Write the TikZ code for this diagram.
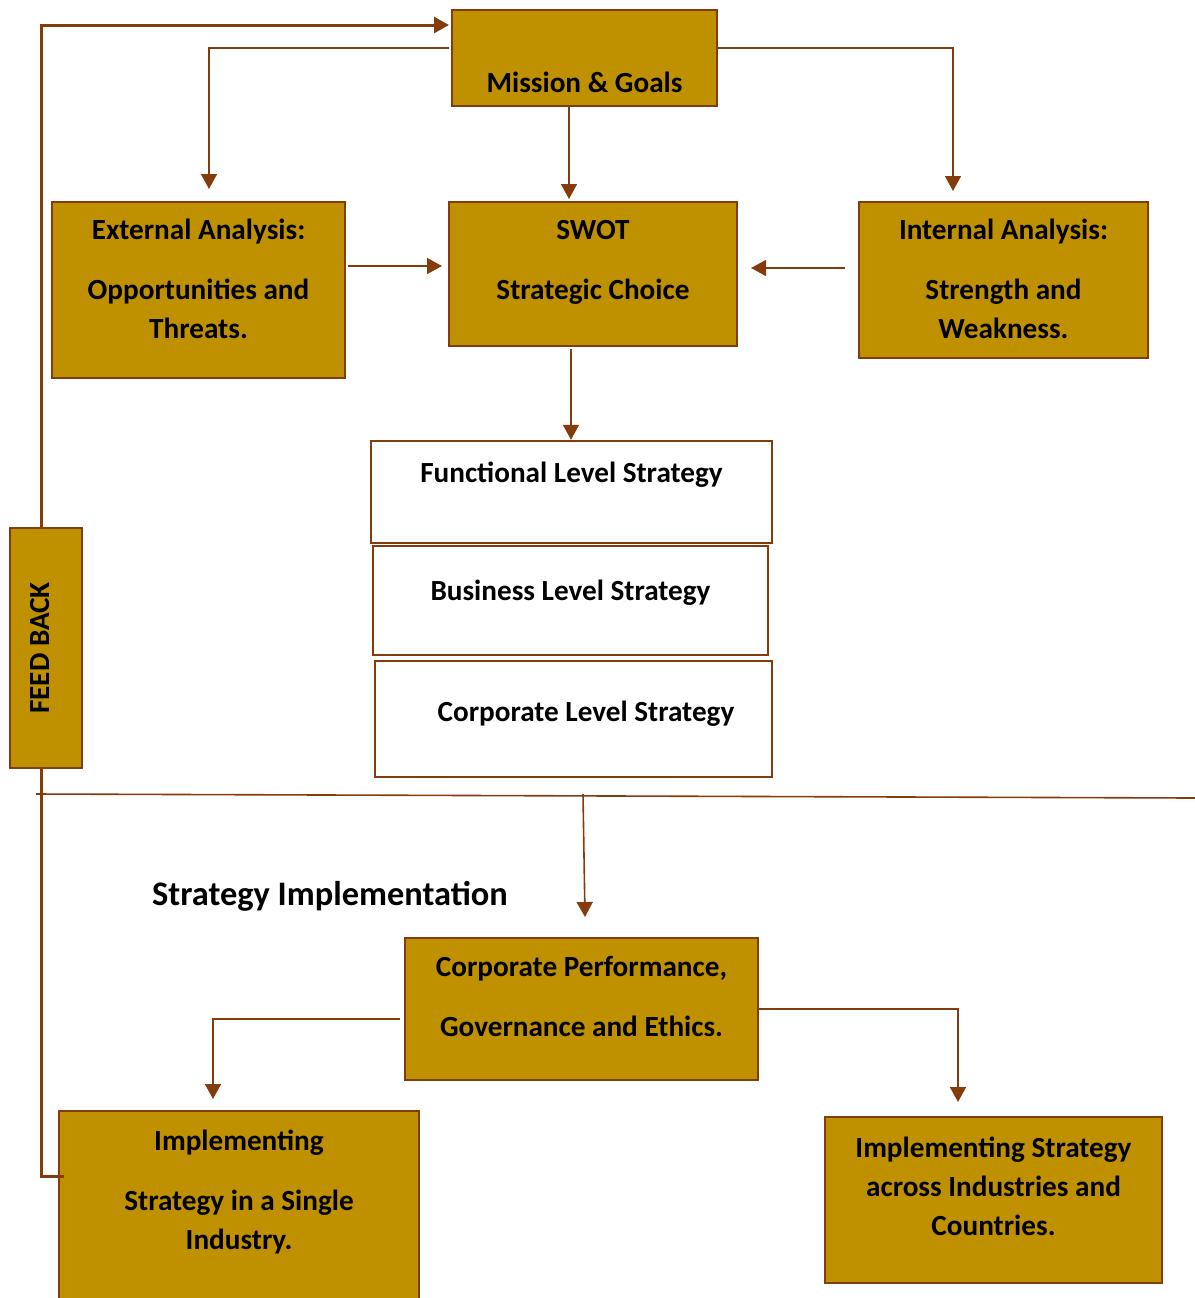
\documentclass[tikz,border=0pt]{standalone}
\usepackage{fontspec}
\setmainfont{Carlito}
\usetikzlibrary{arrows.meta}
\definecolor{boxgold}{RGB}{191,144,0}
\definecolor{linebrown}{RGB}{132,60,12}
\tikzset{
	->, % every connector is directed
	>={Triangle[length=7.5pt,width=8pt]}, % filled triangle heads
	box/.style={draw=linebrown, line width=1pt, fill=boxgold, align=flush center, inner xsep=5pt, inner ysep=0pt,
		font=\bfseries\fontsize{14.6pt}{19.5pt}\selectfont}, % gold boxes
	plainbox/.style={box, fill=white, line width=1.2pt}, % white strategy levels
	boxsize/.style 2 args={minimum width=#1, text width=#1-10pt, minimum height=#2}, % outer size of a box
	textlow/.style={text height=#1, text depth=0pt}, % first baseline below the middle
	texthigh/.style={text height=0pt, text depth=#1}, % first baseline above the middle
	link/.style={draw=linebrown, line width=0.8pt}, % thin connectors
	fback/.style={draw=linebrown, line width=1.5pt}, % feedback loop
}
\begin{document}
\begin{tikzpicture}[x=0.5pt,y=-0.5pt]
	\useasboundingbox (0,0) rectangle (1195,1298);

	% upper part
	\node[box, boxsize={132.5pt}{48pt}, textlow=34pt] (mission) at (584.5,58) {Mission \& Goals};
	\node[box, boxsize={146.5pt}{88pt}, texthigh=51pt] (ext) at (198.5,290) {External Analysis:\\[10.5pt]Opportunities and\\Threats.};
	\node[box, boxsize={144pt}{72pt}, texthigh=35pt] (swot) at (593,274) {SWOT\\[10.5pt]Strategic Choice};
	\node[box, boxsize={144.5pt}{78pt}, texthigh=41pt] (int) at (1003.5,280) {Internal Analysis:\\[10.5pt]Strength and\\Weakness.};
	\node[plainbox, boxsize={200.5pt}{51pt}, texthigh=10pt] (func) at (571.5,492) {Functional Level Strategy};
	\node[plainbox, boxsize={197.5pt}{54.5pt}, texthigh=0pt] (bus) at (570.5,600.5) {Business Level Strategy};
	\node[plainbox, boxsize={198.5pt}{58pt}, textlow=2pt] (corp) at (573.5,719) {\hspace*{12.5pt}Corporate Level Strategy};
	\node[box, boxsize={36pt}{120pt}] (feed) at (46,648) {\hspace*{-6pt}\rotatebox{90}{FEED BACK}};

	% lower part
	\node[font=\bfseries\fontsize{17.2pt}{20pt}\selectfont] (impl) at (330,896) {Strategy Implementation};
	\node[box, boxsize={176.5pt}{71pt}, texthigh=33pt] (perf) at (581.5,1009) {Corporate Performance,\\[10.5pt]Governance and Ethics.};
	\node[box, boxsize={180pt}{99.5pt}, texthigh=60.5pt] (single) at (239,1210.5) {Implementing\\[10.5pt]Strategy in a Single\\Industry.};
	\node[box, boxsize={168.5pt}{83pt}, texthigh=43pt] (across) at (993.5,1200) {Implementing Strategy\\across Industries and\\Countries.};

	\coordinate (divl) at (36,794);
	\coordinate (divr) at (1195,798);

	% connectors
	\draw[link] ([xshift=-1pt,yshift=5pt]mission.west) -| ([xshift=5.25pt,yshift=6pt]ext.north);
	\draw[link] ([yshift=5pt]mission.east) -| ([xshift=-25.25pt,yshift=5pt]int.north);
	\draw[link] ([xshift=-7.75pt]mission.south) -- ([xshift=-12pt,yshift=1pt]swot.north);
	\draw[link] ([xshift=1pt,yshift=12pt]ext.east) -- ([xshift=-3pt,yshift=4pt]swot.west);
	\draw[link] ([xshift=-6.5pt,yshift=6pt]int.west) -- ([xshift=6.5pt,yshift=3pt]swot.east);
	\draw[link] ([xshift=-11pt,yshift=-1pt]swot.south) -- ([xshift=-0.25pt]func.north);
	\draw[link,-] (divl) -- (divr);
	\draw[link] ([xshift=4.75pt,yshift=-8pt]corp.south) -- ([xshift=1.75pt,yshift=10pt]perf.north);
	\draw[link] ([xshift=-2pt,yshift=-5pt]perf.west) -| ([xshift=-13pt,yshift=5.5pt]single.north);
	\draw[link] (perf.east) -| ([xshift=-17.75pt,yshift=7pt]across.north);

	% feedback loop
	\draw[fback,-] ([xshift=3pt,yshift=17.25pt]single.west) -| ([xshift=-2.5pt]feed.south);
	\draw[fback] ([xshift=-2.5pt]feed.north) |- ([xshift=-1pt,yshift=16.5pt]mission.west);
\end{tikzpicture}
\end{document}
